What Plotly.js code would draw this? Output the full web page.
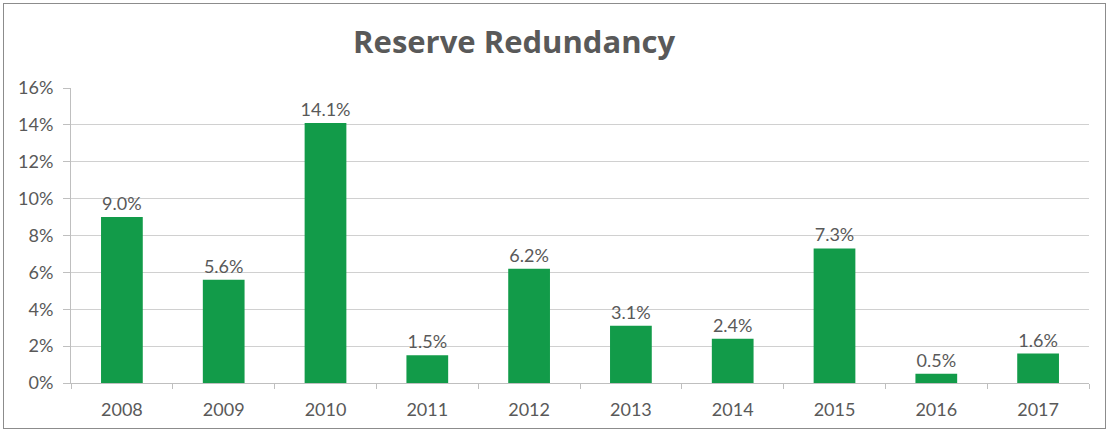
<!DOCTYPE html>
<html>
<head>
<meta charset="utf-8">
<script src="https://cdn.plot.ly/plotly-3.0.1.min.js"></script>
<style>
html,body{margin:0;padding:0;background:#fff;}
#chart{width:1109px;height:432px;position:absolute;left:0;top:0;}
#frame{position:absolute;left:3px;top:3px;width:1101px;height:424px;border:1px solid #8c8c8c;pointer-events:none;}
</style>
</head>
<body>
<div id="chart"></div>
<div id="frame"></div>
<script>
const years = ['2008','2009','2010','2011','2012','2013','2014','2015','2016','2017'];
const redundancy = [0.090, 0.056, 0.141, 0.015, 0.062, 0.031, 0.024, 0.073, 0.005, 0.016];
const yTickVals = [0, 0.02, 0.04, 0.06, 0.08, 0.10, 0.12, 0.14, 0.16];

const font = 'Lato, "Liberation Sans", sans-serif';
const trace = {
  type: 'bar',
  x: years,
  y: redundancy,
  marker: {color: '#129B49'},
  texttemplate: '%{y:.1%}',
  textposition: 'outside',
  constraintext: 'none',
  cliponaxis: false,
  textfont: {family: font, size: 18, color: '#595959'},
  hoverinfo: 'skip'
};
const layout = {
  width: 1109, height: 432,
  margin: {l: 71, r: 20, t: 88, b: 49},
  paper_bgcolor: '#fff', plot_bgcolor: '#fff',
  bargap: 0.59,
  showlegend: false,
  title: {
    text: '<b>Reserve Redundancy</b>',
    font: {family: '"Open Sans", sans-serif', size: 31, color: '#595959'},
    x: 0.4636, xref: 'container', xanchor: 'center',
    y: 0.902, yref: 'container', yanchor: 'middle'
  },
  xaxis: {
    type: 'category',
    tickfont: {family: font, size: 18, color: '#595959'},
    showline: true, linecolor: '#bfbfbf', linewidth: 1,
    ticks: 'outside', ticklen: 5, tickcolor: '#bfbfbf', tickson: 'boundaries',
    ticklabelstandoff: 10,
    showgrid: false
  },
  yaxis: {
    range: [0, 0.16],
    tickvals: yTickVals,
    tickformat: '.0%',
    tickfont: {family: font, size: 18, color: '#595959'},
    showline: true, linecolor: '#bfbfbf', linewidth: 1,
    ticks: 'outside', ticklen: 7, tickcolor: '#bfbfbf',
    ticklabelstandoff: 6,
    gridcolor: '#d0d0d0', gridwidth: 1,
    zeroline: false
  }
};
Plotly.newPlot('chart', [trace], layout, {displayModeBar: false, staticPlot: true});
</script>
</body>
</html>
